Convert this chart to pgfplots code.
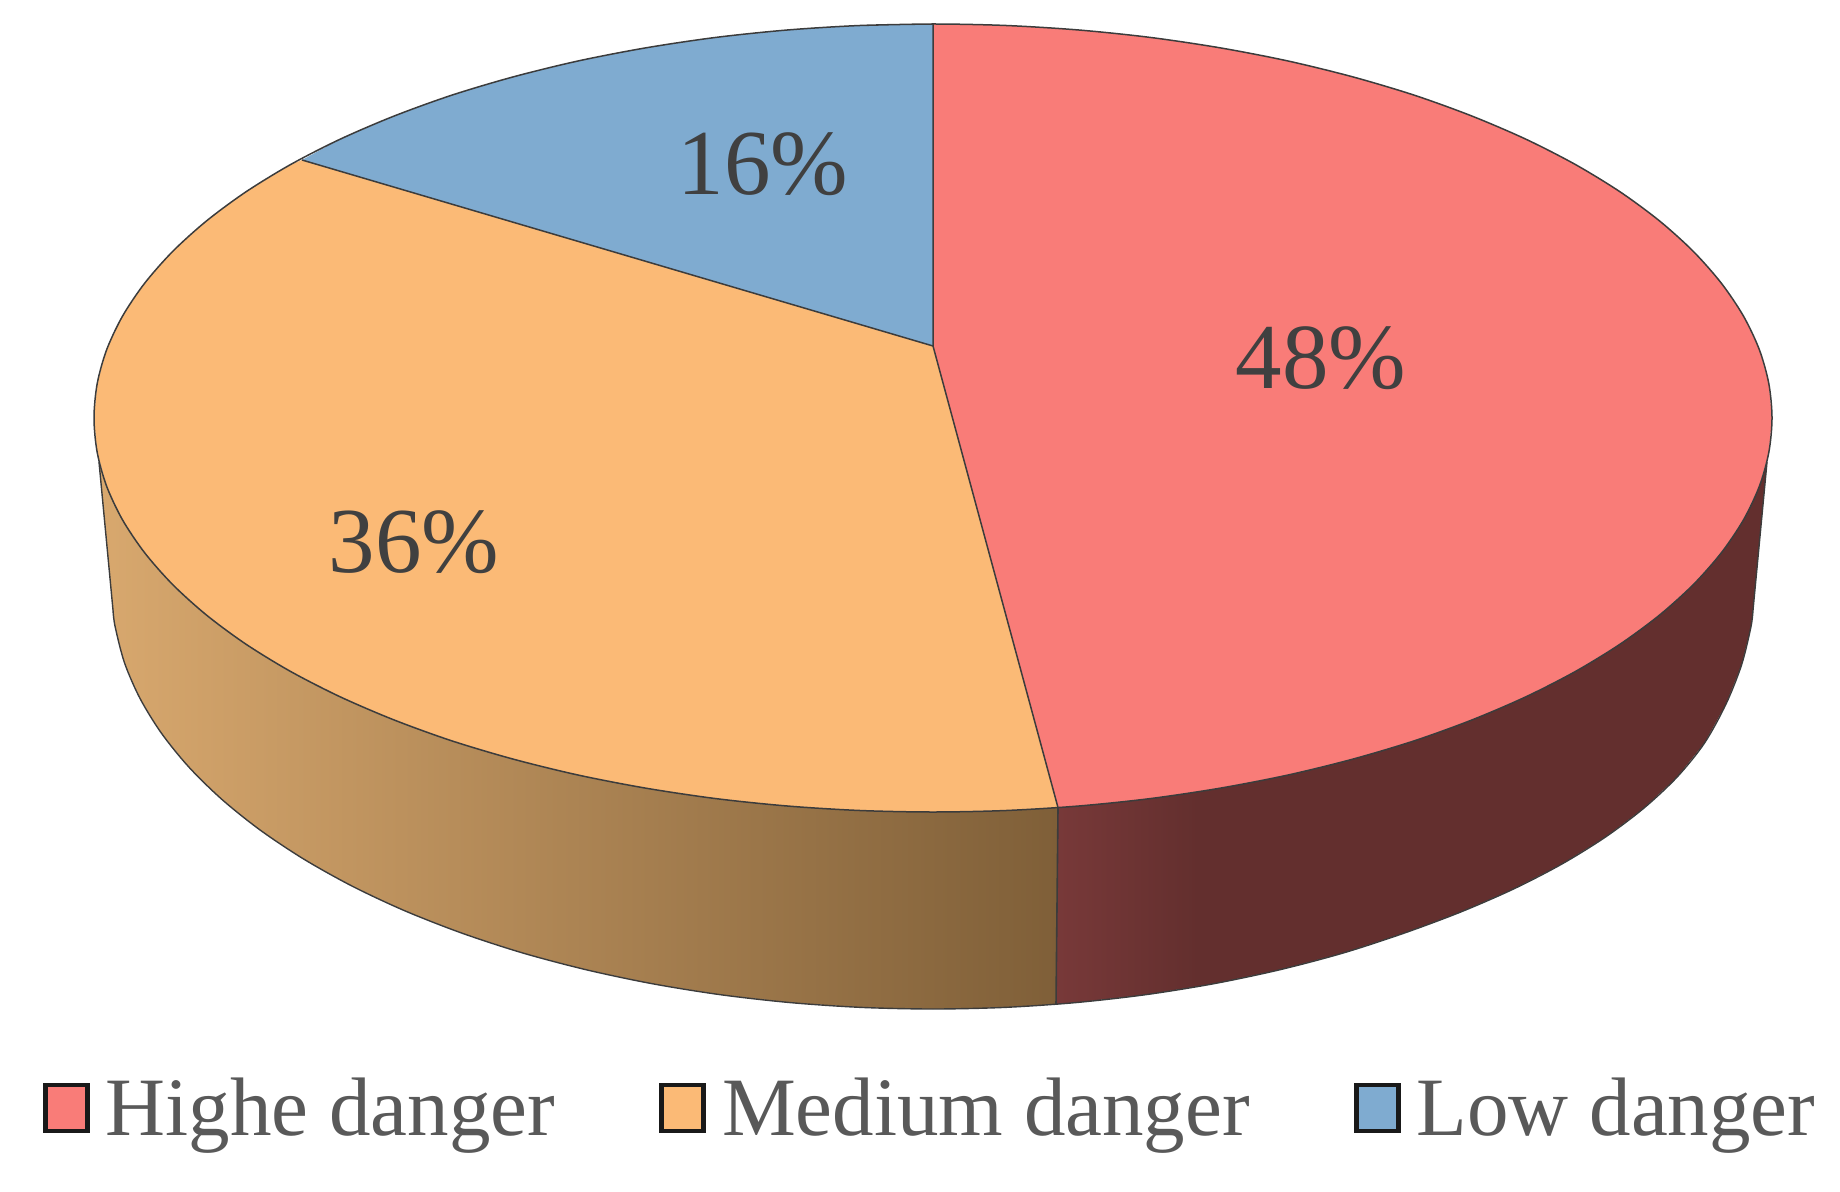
\documentclass[border=0pt]{standalone}
\usepackage{pgfplots}
\pgfplotsset{compat=1.18}
\usepackage{fontspec}
\setmainfont{Liberation Serif}
\definecolor{cred}{RGB}{249,124,120}
\definecolor{corange}{RGB}{251,186,118}
\definecolor{cblue}{RGB}{127,171,208}
\definecolor{edge}{RGB}{60,60,60}
\definecolor{olight}{RGB}{216,168,110}
\definecolor{odark}{RGB}{127,95,56}
\definecolor{rlight}{RGB}{120,57,57}
\definecolor{rdark}{RGB}{99,47,46}
\pgfdeclarehorizontalshading{orangeside}{100bp}{color(0bp)=(olight); color(25bp)=(olight); color(75bp)=(odark); color(100bp)=(odark)}
\pgfdeclarehorizontalshading{redside}{100bp}{color(0bp)=(rlight); color(25bp)=(rlight); color(35bp)=(rdark); color(100bp)=(rdark)}
\begin{document}
\begin{tikzpicture}
\path[use as bounding box] (0,0) rectangle (920pt,596pt);
\begin{axis}[
  width=920pt,height=596pt,scale only axis,hide axis,clip=false,
  xmin=0,xmax=1840,ymin=0,ymax=1192,y dir=reverse,
  legend columns=3,
  legend style={at={(0.0234,0.0705)},anchor=west,draw=none,fill=none,inner sep=0pt,outer sep=0pt,
    font=\fontsize{41.5pt}{41.5pt}\selectfont,text=black!65,
    nodes={inner sep=0pt},
    /tikz/every even column/.append style={column sep=52pt},
    /tikz/every odd column/.append style={column sep=8pt}},
  legend image code/.code={\draw[#1,draw=black!90,line width=2.4pt] (0pt,-11.5pt) rectangle (21pt,11.5pt);},
]
% side walls
\addplot[forget plot,draw=none,shading=orangeside] coordinates {
(99,462)(106.7,486.4)(122.6,520)(144.6,552.7)(172.6,584.5)(206.4,615)(245.7,644)(290.3,671.3)(339.7,696.6)(393.7,719.8)(451.7,740.8)(513.5,759.2)(578.4,775.1)(646.1,788.2)(715.9,798.6)(787.3,806)(859.9,810.5)(933,812)(1006.1,810.5)(1058,807.6)
(1056,1004.3)(1004.6,1007.4)(933,1009)(861.4,1007.4)(790.4,1002.6)(720.5,994.7)(652.2,983.7)(586,969.7)(522.5,952.9)(462.1,933.2)(405.3,911)(352.5,886.3)(304.1,859.3)(260.5,830.3)(222,799.5)(188.9,767.1)(161.5,733.3)(140,698.4)(124.5,662.8)(115.1,626.5)(113,610)
} --cycle;
\addplot[forget plot,draw=none,shading=redside] coordinates {
(1058,807.6)(1078.7,806)(1150.1,798.6)(1219.9,788.2)(1287.6,775.1)(1352.5,759.2)(1414.3,740.8)(1472.3,719.8)(1526.3,696.6)(1575.7,671.3)(1620.3,644)(1659.6,615)(1693.4,584.5)(1721.4,552.7)(1743.4,520)(1759.3,486.4)(1767,462)
(1753,610)(1750.9,627)(1741.5,665)(1726,704)(1704.5,743)(1677.1,777)(1644,808)(1605.5,837)(1561.9,864)(1513.5,889)(1460.7,912)(1403.9,933.2)(1343.5,952.9)(1280,969.7)(1213.8,983.7)(1145.5,994.7)(1075.6,1002.6)(1056,1004.3)
} --cycle;
% outer outline of the walls and the seam
\addplot[forget plot,draw=edge,line width=0.7pt] coordinates {(99,462)(113,610)};
\addplot[forget plot,draw=edge,line width=0.7pt] coordinates {(1767,462)(1753,610)};
\addplot[forget plot,smooth,draw=edge,line width=0.7pt] coordinates {
(113,610)(115.1,626.5)(124.5,662.8)(140,698.4)(161.5,733.3)(188.9,767.1)(222,799.5)(260.5,830.3)(304.1,859.3)(352.5,886.3)(405.3,911)(462.1,933.2)(522.5,952.9)(586,969.7)(652.2,983.7)(720.5,994.7)(790.4,1002.6)(861.4,1007.4)(933,1009)(1004.6,1007.4)(1075.6,1002.6)(1145.5,994.7)(1213.8,983.7)(1280,969.7)(1343.5,952.9)(1403.9,933.2)(1460.7,912)(1513.5,889)(1561.9,864)(1605.5,837)(1644,808)(1677.1,777)(1704.5,743)(1726,704)(1741.5,665)(1750.9,627)(1753,610)
};
\addplot[forget plot,draw=edge,line width=0.8pt] coordinates {(1058,807.6)(1056,1004.3)};
% top face
\addplot[fill=cred,draw=none] coordinates {
(933,346)(933,24)(1006.1,25.5)(1078.7,30)(1150.1,37.4)(1219.9,47.8)(1287.6,60.9)(1352.5,76.8)(1414.3,95.2)(1472.3,116.2)(1526.3,139.4)(1575.7,164.7)(1620.3,192)(1659.6,221)(1693.4,251.5)(1721.4,283.3)(1743.4,316)(1759.3,349.6)(1768.8,383.6)(1772,418)(1768.8,452.4)(1759.3,486.4)(1743.4,520)(1721.4,552.7)(1693.4,584.5)(1659.6,615)(1620.3,644)(1575.7,671.3)(1526.3,696.6)(1472.3,719.8)(1414.3,740.8)(1352.5,759.2)(1287.6,775.1)(1219.9,788.2)(1150.1,798.6)(1078.7,806)(1058,807.6)
} --cycle;
\addlegendentry{Highe danger}
\addplot[fill=corange,draw=none] coordinates {
(933,346)(1058,807.6)(1006.1,810.5)(933,812)(859.9,810.5)(787.3,806)(715.9,798.6)(646.1,788.2)(578.4,775.1)(513.5,759.2)(451.7,740.8)(393.7,719.8)(339.7,696.6)(290.3,671.3)(245.7,644)(206.4,615)(172.6,584.5)(144.6,552.7)(122.6,520)(106.7,486.4)(97.2,452.4)(94,418)(97.2,383.6)(106.7,349.6)(122.6,316)(144.6,283.3)(172.6,251.5)(206.4,221)(245.7,192)(290.3,164.7)(302,160)
} --cycle;
\addlegendentry{Medium danger}
\addplot[fill=cblue,draw=none] coordinates {
(933,346)(302,160)(339.7,139.4)(393.7,116.2)(451.7,95.2)(513.5,76.8)(578.4,60.9)(646.1,47.8)(715.9,37.4)(787.3,30)(859.9,25.5)(933,24)
} --cycle;
\addlegendentry{Low danger}
% rim and spokes of the top face
\addplot[forget plot,smooth,draw=edge,line width=0.75pt] coordinates {
(859.9,25.5)(933,24)(1006.1,25.5)(1078.7,30)(1150.1,37.4)(1219.9,47.8)(1287.6,60.9)(1352.5,76.8)(1414.3,95.2)(1472.3,116.2)(1526.3,139.4)(1575.7,164.7)(1620.3,192)(1659.6,221)(1693.4,251.5)(1721.4,283.3)(1743.4,316)(1759.3,349.6)(1768.8,383.6)(1772,418)(1768.8,452.4)(1759.3,486.4)(1743.4,520)(1721.4,552.7)(1693.4,584.5)(1659.6,615)(1620.3,644)(1575.7,671.3)(1526.3,696.6)(1472.3,719.8)(1414.3,740.8)(1352.5,759.2)(1287.6,775.1)(1219.9,788.2)(1150.1,798.6)(1078.7,806)(1006.1,810.5)(933,812)(859.9,810.5)(787.3,806)(715.9,798.6)(646.1,788.2)(578.4,775.1)(513.5,759.2)(451.7,740.8)(393.7,719.8)(339.7,696.6)(290.3,671.3)(245.7,644)(206.4,615)(172.6,584.5)(144.6,552.7)(122.6,520)(106.7,486.4)(97.2,452.4)(94,418)(97.2,383.6)(106.7,349.6)(122.6,316)(144.6,283.3)(172.6,251.5)(206.4,221)(245.7,192)(290.3,164.7)(339.7,139.4)(393.7,116.2)(451.7,95.2)(513.5,76.8)(578.4,60.9)(646.1,47.8)(715.9,37.4)(787.3,30)(859.9,25.5)(933,24)
};
\addplot[forget plot,draw=edge,line width=0.75pt] coordinates {(933,24)(933,346)(1058,807.6)};
\addplot[forget plot,draw=edge,line width=0.75pt] coordinates {(933,346)(302,160)};
% percentage labels
\addplot[forget plot,only marks,mark=none,point meta=explicit symbolic,
  nodes near coords,
  every node near coord/.append style={anchor=center,inner sep=0pt,text=black!75,font=\fontsize{46.5pt}{46.5pt}\selectfont}]
  coordinates {(1321,358)[48\%] (414,542)[36\%] (763,164)[16\%]};
\end{axis}
\end{tikzpicture}
\end{document}
